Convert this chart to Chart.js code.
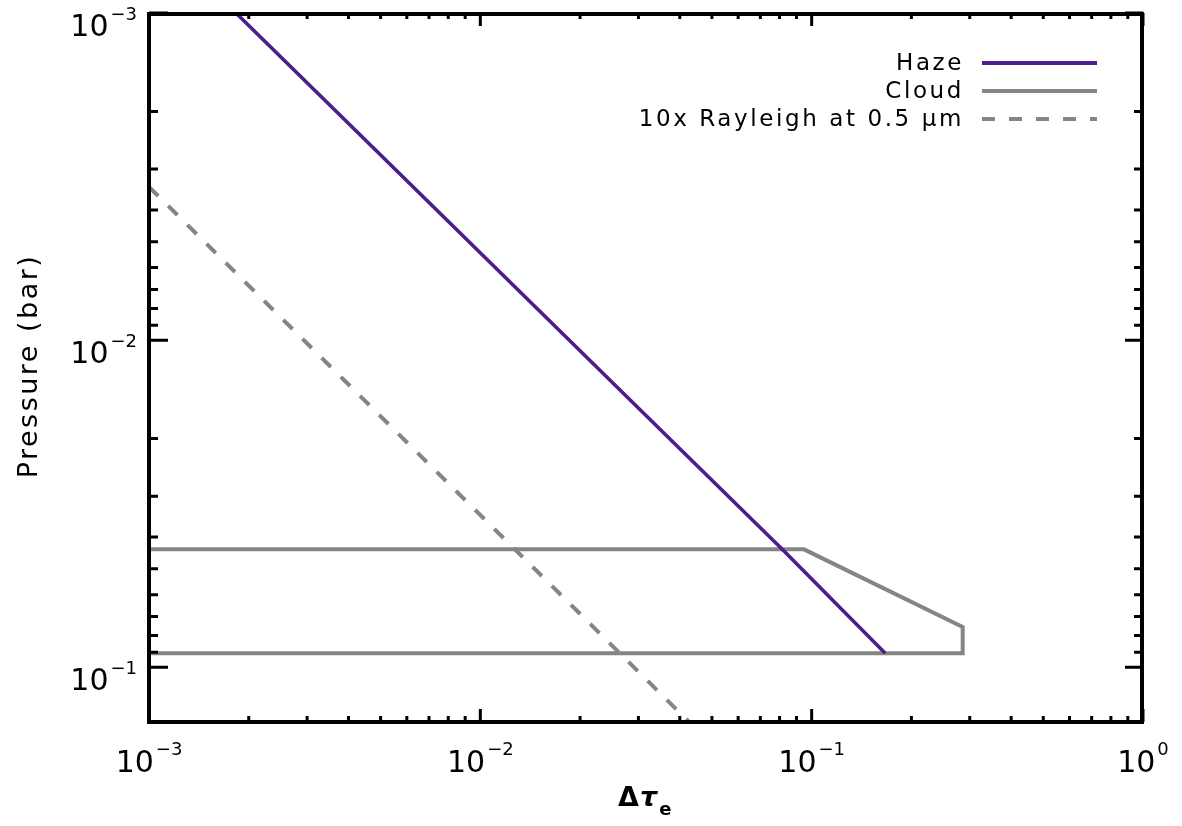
<!DOCTYPE html>
<html><head><meta charset="utf-8">
<script src="https://cdn.jsdelivr.net/npm/chart.js@4.4.0/dist/chart.umd.min.js"></script>
<style>html,body{margin:0;padding:0;background:#fff;}#wrap{width:1182px;height:826px;}</style>
</head><body><div id="wrap"><canvas id="c" width="1182" height="826"></canvas></div>
<script>
// ---- data ----
const hazeTau = [0.00183, 0.0815, 0.1667];
const hazeP   = [0.001,   0.0436, 0.0906];
const cloudTau = [0.001, 0.0948, 0.2856, 0.2856, 0.001];
const cloudP   = [0.0436, 0.0436, 0.0753, 0.0906, 0.0906];
const rayTau = [0.001, 0.0427];
const rayP   = [0.0034, 0.147];
const seriesNames = ['Haze', 'Cloud', '10x Rayleigh at 0.5 \u03bcm'];
const xMajor = [0.001, 0.01, 0.1, 1];
const xExp   = ['\u22123', '\u22122', '\u22121', '0'];
const yMajor = [0.001, 0.01, 0.1];
const yExp   = ['\u22123', '\u22122', '\u22121'];
const xTitle = ['\u0394', '\u03c4', 'e'];
const yTitle = 'Pressure (bar)';

const HAZE = '#4b1e8c', GRAY = '#858585';
const FONT = '"DejaVu Sans", sans-serif';

function pts(xs, ys){ return xs.map((v,i)=>({x:v, y:ys[i]})); }

const overlay = {
  id: 'overlay',
  afterDatasetsDraw(chart){
    const ctx = chart.ctx, ca = chart.chartArea;
    const sx = chart.scales.x, sy = chart.scales.y;
    ctx.save();
    ctx.strokeStyle = '#000'; ctx.fillStyle = '#000'; ctx.lineCap = 'butt';
    // ticks
    ctx.lineWidth = 3;
    ctx.beginPath();
    for (let d = -3; d <= 0; d++) {
      for (let m = 1; m <= 9; m++) {
        if (d === 0 && m > 1) break;
        const v = m * Math.pow(10, d);
        const px = sx.getPixelForValue(v);
        const len = m === 1 ? 13 : 6;
        ctx.moveTo(px, ca.bottom); ctx.lineTo(px, ca.bottom - len);
        ctx.moveTo(px, ca.top); ctx.lineTo(px, ca.top + len);
      }
    }
    for (let d = -3; d <= -1; d++) {
      for (let m = 1; m <= 9; m++) {
        const v = m * Math.pow(10, d);
        if (v > sy.max) break;
        const py = sy.getPixelForValue(v);
        const lenL = m === 1 ? 19 : 9, lenR = m === 1 ? 18 : 9;
        ctx.moveTo(ca.left, py); ctx.lineTo(ca.left + lenL, py);
        ctx.moveTo(ca.right, py); ctx.lineTo(ca.right - lenR, py);
      }
    }
    ctx.stroke();
    // frame
    ctx.lineWidth = 4;
    ctx.strokeRect(ca.left, ca.top + 1, ca.right - 1 - ca.left, ca.bottom - ca.top - 1);

    // tick labels
    const big = '30px ' + FONT, small = '18px ' + FONT;
    ctx.textBaseline = 'alphabetic'; ctx.textAlign = 'left';
    xMajor.forEach((v, i) => {
      const px = sx.getPixelForValue(v);
      ctx.font = big; const w1 = ctx.measureText('10').width;
      ctx.font = small; const w2 = ctx.measureText(xExp[i]).width;
      const x0 = px - (w1 + 2 + w2) / 2;
      ctx.font = big; ctx.fillText('10', x0, ca.bottom + 50);
      ctx.font = small; ctx.fillText(xExp[i], x0 + w1 + 2, ca.bottom + 33);
    });
    yMajor.forEach((v, i) => {
      const py = sy.getPixelForValue(v);
      ctx.font = big; const w1 = ctx.measureText('10').width;
      ctx.font = small; const w2 = ctx.measureText(yExp[i]).width;
      const xr = ca.left - 12;
      ctx.font = big; ctx.fillText('10', xr - w2 - 2 - w1, py + 23);
      ctx.font = small; ctx.fillText(yExp[i], xr - w2, py + 7);
    });

    // y axis title
    ctx.save();
    ctx.font = '27px ' + FONT;
    ctx.letterSpacing = '2.5px';
    ctx.translate(30, 366); ctx.rotate(-Math.PI / 2);
    ctx.textAlign = 'center'; ctx.textBaseline = 'middle';
    ctx.fillText(yTitle, 0, 0);
    ctx.restore();
    // x axis title
    const fD = 'bold 27px ' + FONT, fT = 'italic bold 27px ' + FONT, fE = 'bold 18px ' + FONT;
    ctx.font = fD; const wD = ctx.measureText(xTitle[0]).width;
    ctx.font = fT; const wT = ctx.measureText(xTitle[1]).width;
    ctx.font = fE; const wE = ctx.measureText(xTitle[2]).width;
    const tx = 618;
    ctx.font = fD; ctx.fillText(xTitle[0], tx, 806);
    ctx.font = fT; ctx.fillText(xTitle[1], tx + wD + 1, 806);
    ctx.font = fE; ctx.fillText(xTitle[2], tx + wD + wT + 3, 815);

    // legend
    const rows = [63, 91, 119];
    ctx.font = '23px ' + FONT; ctx.textAlign = 'right'; ctx.textBaseline = 'middle';
    chart.data.datasets.forEach((ds, i) => {
      ctx.fillStyle = '#000';
      ctx.letterSpacing = '2.6px';
      ctx.fillText(ds.label, 964, rows[i] + 1);
      ctx.letterSpacing = '0px';
      ctx.strokeStyle = ds.borderColor; ctx.lineWidth = 4;
      ctx.setLineDash(ds.borderDash || []);
      ctx.beginPath(); ctx.moveTo(982, rows[i]); ctx.lineTo(1097, rows[i]); ctx.stroke();
      ctx.setLineDash([]);
    });
    ctx.restore();
  }
};

new Chart(document.getElementById('c'), {
  type: 'scatter',
  data: {
    datasets: [
      { label: seriesNames[0], data: pts(hazeTau, hazeP), showLine: true, borderColor: HAZE, borderWidth: 3.6, pointRadius: 0, fill: false },
      { label: seriesNames[1], data: pts(cloudTau, cloudP), showLine: true, borderColor: GRAY, borderWidth: 4, pointRadius: 0, fill: false },
      { label: seriesNames[2], data: pts(rayTau, rayP), showLine: true, borderColor: GRAY, borderWidth: 4, borderDash: [13, 14], pointRadius: 0, fill: false }
    ]
  },
  options: {
    responsive: false, animation: false, devicePixelRatio: 1,
    layout: { padding: { left: 149, top: 13, right: 39, bottom: 104 } },
    plugins: { legend: { display: false }, tooltip: { enabled: false } },
    scales: {
      x: { type: 'logarithmic', min: 0.001, max: 1, bounds: 'data', display: false },
      y: { type: 'logarithmic', reverse: true, min: 0.001, max: 0.147, bounds: 'data', display: false }
    }
  },
  plugins: [overlay]
});
</script></body></html>
